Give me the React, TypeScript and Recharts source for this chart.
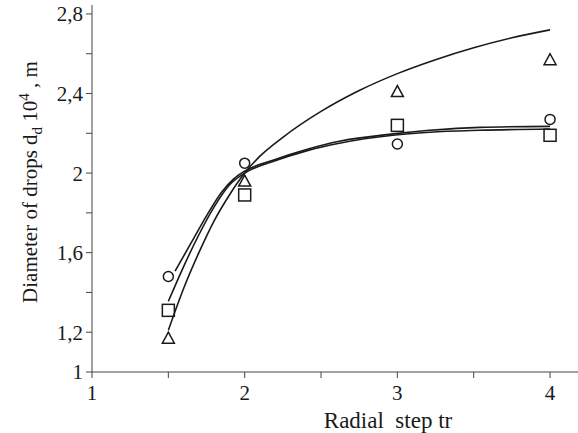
import React from "react";
import { ComposedChart, Line, Scatter, XAxis, YAxis } from "recharts";

// Measured points (radial step tr)
const stepX = [1.5, 2, 3, 4];
const circleVals = [1.48, 2.05, 2.146, 2.27];
const squareVals = [1.31, 1.89, 2.24, 2.19];
const triangleVals = [1.17, 1.96, 2.41, 2.57];

// Fitted curves
const triFitX = [1.5, 1.6, 1.7, 1.8, 1.9, 2.0, 2.1, 2.25, 2.5, 2.75, 3.0, 3.25, 3.5, 3.75, 4.0];
const triFitY = [1.21, 1.42, 1.6, 1.76, 1.89, 2.0, 2.085, 2.18, 2.31, 2.415, 2.5, 2.57, 2.63, 2.68, 2.72];
const circFitX = [1.544, 1.65, 1.75, 1.85, 1.93, 2.0, 2.185, 2.41, 2.62, 2.97, 3.21, 3.54, 4.0];
const circFitY = [1.507, 1.65, 1.785, 1.905, 1.972, 2.01, 2.065, 2.12, 2.16, 2.197, 2.215, 2.23, 2.235];
const sqFitX = [1.5, 1.6, 1.7, 1.8, 1.9, 2.0, 2.185, 2.41, 2.62, 2.97, 3.21, 3.54, 4.0];
const sqFitY = [1.355, 1.53, 1.69, 1.83, 1.94, 2.0, 2.058, 2.113, 2.15, 2.19, 2.205, 2.215, 2.222];

const xTicks = [1, 1.5, 2, 2.5, 3, 3.5, 4];
const yTicks = [1, 1.2, 1.4, 1.6, 1.8, 2, 2.2, 2.4, 2.6, 2.8];
const yLabeled = [1, 1.2, 1.6, 2, 2.4, 2.8];

const zip = (xs: number[], ys: number[]) => xs.map((x, i) => ({ x, y: ys[i] }));

const circleData = zip(stepX, circleVals);
const squareData = zip(stepX, squareVals);
const triangleData = zip(stepX, triangleVals);
const triFit = zip(triFitX, triFitY);
const circFit = zip(circFitX, circFitY);
const sqFit = zip(sqFitX, sqFitY);

const FONT = "Liberation Serif, Times New Roman, serif";
const INK = "#1a1a1a";
const AXIS = "#444";

const CircleShape = (p: any) => (
  <circle cx={p.cx} cy={p.cy} r={5} fill="none" stroke={INK} strokeWidth={1.5} />
);
const SquareShape = (p: any) => (
  <rect x={p.cx - 6} y={p.cy - 6} width={12} height={12} fill="none" stroke={INK} strokeWidth={1.5} />
);
const TriangleShape = (p: any) => (
  <polygon
    points={`${p.cx},${p.cy - 6} ${p.cx - 6},${p.cy + 5} ${p.cx + 6},${p.cy + 5}`}
    fill="none"
    stroke={INK}
    strokeWidth={1.5}
  />
);

const fmtY = (v: number) =>
  yLabeled.some((l) => Math.abs(l - v) < 1e-6) ? String(v).replace(".", ",") : "";
const fmtX = (v: number) => (Number.isInteger(v) ? String(v) : "");

const XTitle = () => (
  <text x={388} y={428} textAnchor="middle" fontFamily={FONT} fontSize={23} fill={INK}>
    Radial{"\u00a0\u00a0"}step tr
  </text>
);

const YTitle = () => (
  <text
    transform="translate(37,182) rotate(-90)"
    textAnchor="middle"
    fontFamily={FONT}
    fontSize={21}
    fill={INK}
  >
    <tspan>Diameter of drops d</tspan>
    <tspan fontSize={15} dy={5}>d</tspan>
    <tspan dy={-5}> 10</tspan>
    <tspan fontSize={15} dy={-8}>4</tspan>
    <tspan dy={8}> , m</tspan>
  </text>
);

const lineProps = {
  type: "monotone" as const,
  stroke: INK,
  strokeWidth: 1.6,
  dot: false,
  activeDot: false,
  isAnimationActive: false,
};

export default function App() {
  return (
    <div style={{ position: "absolute", left: 0, top: 0, background: "#fff" }}>
      <ComposedChart width={578} height={433} margin={{ top: 5, right: 0, bottom: 0, left: 0 }}>
        <XAxis
          type="number"
          dataKey="x"
          domain={[1, 4.183]}
          ticks={xTicks}
          tickFormatter={fmtX}
          allowDataOverflow
          height={61}
          tickSize={6}
          tickMargin={7}
          stroke={AXIS}
          tick={{ fontFamily: FONT, fontSize: 21, fill: INK }}
          label={{ content: () => <XTitle /> }}
        />
        <YAxis
          type="number"
          dataKey="y"
          domain={[1, 2.845]}
          ticks={yTicks}
          tickFormatter={fmtY}
          allowDataOverflow
          width={92}
          tickSize={6}
          tickMargin={3}
          stroke={AXIS}
          tick={{ fontFamily: FONT, fontSize: 21, fill: INK }}
          label={{ content: () => <YTitle /> }}
        />
        <Line data={triFit} dataKey="y" {...lineProps} />
        <Line data={circFit} dataKey="y" {...lineProps} />
        <Line data={sqFit} dataKey="y" {...lineProps} />
        <Scatter data={circleData} dataKey="y" shape={CircleShape} isAnimationActive={false} />
        <Scatter data={squareData} dataKey="y" shape={SquareShape} isAnimationActive={false} />
        <Scatter data={triangleData} dataKey="y" shape={TriangleShape} isAnimationActive={false} />
      </ComposedChart>
    </div>
  );
}
